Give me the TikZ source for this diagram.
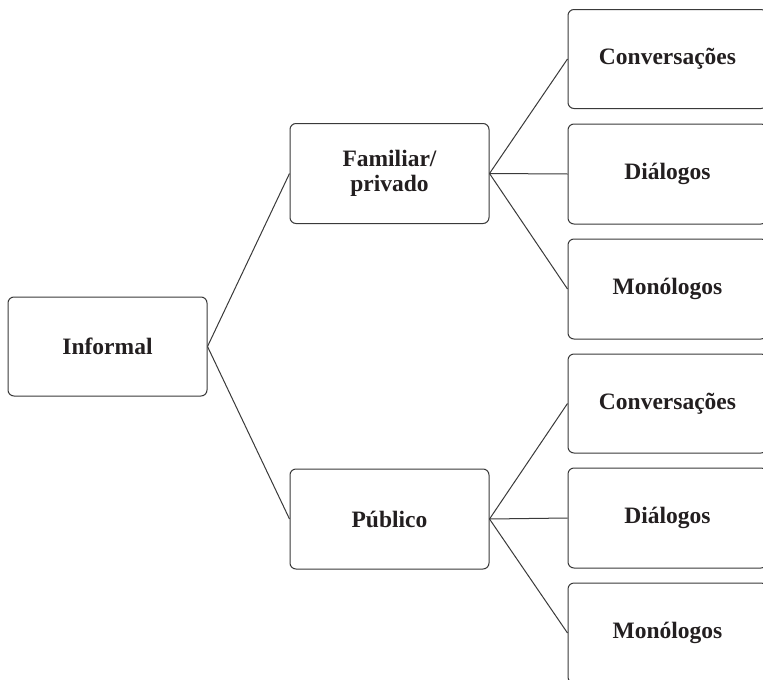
\documentclass[tikz,border=0pt]{standalone}
\usepackage{fontspec}
\setmainfont{Liberation Serif}
\definecolor{linec}{HTML}{3A3A3A}
\definecolor{textc}{HTML}{231F20}
\begin{document}
\begin{tikzpicture}[x=1pt,y=-1pt,
  box/.style={draw=linec, line width=1pt, rounded corners=6pt, minimum width=199pt, minimum height=99pt,
    inner sep=0pt, align=center, text=textc, font=\fontsize{23.5}{25.5}\selectfont\bfseries},
  conn/.style={draw=linec, line width=1pt}]
\useasboundingbox (0,0) rectangle (763,680);
\clip (0,0) rectangle (763,680);
\fill[white] (0,0) rectangle (763,680);
\node[box] (inf) at (107.5,346.5) {Informal};
\node[box, minimum height=100pt] (fam) at (389.5,173.5) {Familiar/\\privado};
\node[box, minimum height=100pt] (pub) at (389.5,519) {Público};
\node[box] (c1) at (667.5,59) {Conversações};
\node[box, minimum height=100pt] (d1) at (667.5,174) {Diálogos};
\node[box, minimum height=100pt] (m1) at (667.5,289) {Monólogos};
\node[box] (c2) at (667.5,403.5) {Conversações};
\node[box, minimum height=100pt] (d2) at (667.5,518) {Diálogos};
\node[box, minimum height=100pt] (m2) at (667.5,633) {Monólogos};
\draw[conn] (inf.east) -- (fam.west);
\draw[conn] (inf.east) -- (pub.west);
\draw[conn] (fam.east) -- (c1.west);
\draw[conn] (fam.east) -- (d1.west);
\draw[conn] (fam.east) -- (m1.west);
\draw[conn] (pub.east) -- (c2.west);
\draw[conn] (pub.east) -- (d2.west);
\draw[conn] (pub.east) -- (m2.west);
\end{tikzpicture}
\end{document}
